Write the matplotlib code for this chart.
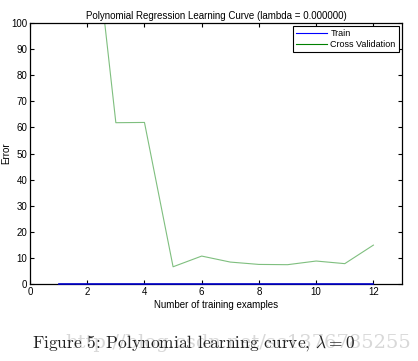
import matplotlib
matplotlib.use("Agg")
import matplotlib.pyplot as plt
import numpy as np

m = [1, 2, 3, 4, 5, 6, 7, 8, 9, 10, 11, 12]
train_err = [0.0, 0.0, 0.0, 0.0, 0.0, 0.0, 0.0, 0.0, 0.0, 0.0, 0.0, 0.0]
cv_err = [160.7, 160.1, 61.8, 61.9, 6.6, 10.7, 8.4, 7.5, 7.4, 8.8, 7.8, 14.9]
xticks = [0, 2, 4, 6, 8, 10, 12]
yticks = [0, 10, 20, 30, 40, 50, 60, 70, 80, 90, 100]

plt.rcParams['font.family'] = ['Liberation Sans', 'DejaVu Sans']
plt.rcParams['mathtext.fontset'] = 'cm'

fig = plt.figure(figsize=(4.18, 3.61), dpi=100)
ax = fig.add_axes([30/418, 1-284/361, 372/418, 261/361])

ax.plot(m, train_err, color='#0000cc', lw=1.2, label='Train', zorder=5, clip_on=False)
ax.plot(m, cv_err, color='#7fbf7f', lw=0.8, label='Cross Validation')
leg_lines = [plt.Line2D([], [], color='#0000ff', lw=0.8),
             plt.Line2D([], [], color='#008000', lw=0.8)]
ax.set_xlim(0, 13)
ax.set_ylim(0, 100)
ax.set_xticks(xticks)
ax.set_yticks(yticks)
ax.tick_params(direction='in', top=True, right=True, labelsize=7, length=3, width=0.8, pad=2)
for s in ax.spines.values():
    s.set_linewidth(0.9)
ax.set_title('Polynomial Regression Learning Curve (lambda = 0.000000)', fontsize=7, pad=3)
ax.set_xlabel('Number of training examples', fontsize=7, labelpad=2)
ax.set_ylabel('Error', fontsize=7)
ax.yaxis.set_label_coords(-0.05, 0.5)
leg = ax.legend(leg_lines, ['Train', 'Cross Validation'], loc='upper right', fontsize=6.5,
                fancybox=False, framealpha=1, edgecolor='black', borderpad=0.35,
                handlelength=3.4, handletextpad=0.4, labelspacing=0.15,
                borderaxespad=0.35)
leg.get_frame().set_linewidth(0.8)

fig.text(65/418, 1-343/361, 'http://blog.csdn.net/sc1376785255', fontsize=14,
         family='DejaVu Serif', color='#d8d8d8', va='center', ha='left')
fig.text(32/418, 1-343/361, r'Figure 5: Polynomial learning curve, $\lambda = 0$',
         fontsize=12.5, family='cmr10', color='#222222', va='center', ha='left')

fig.savefig('out.png', dpi=100)
